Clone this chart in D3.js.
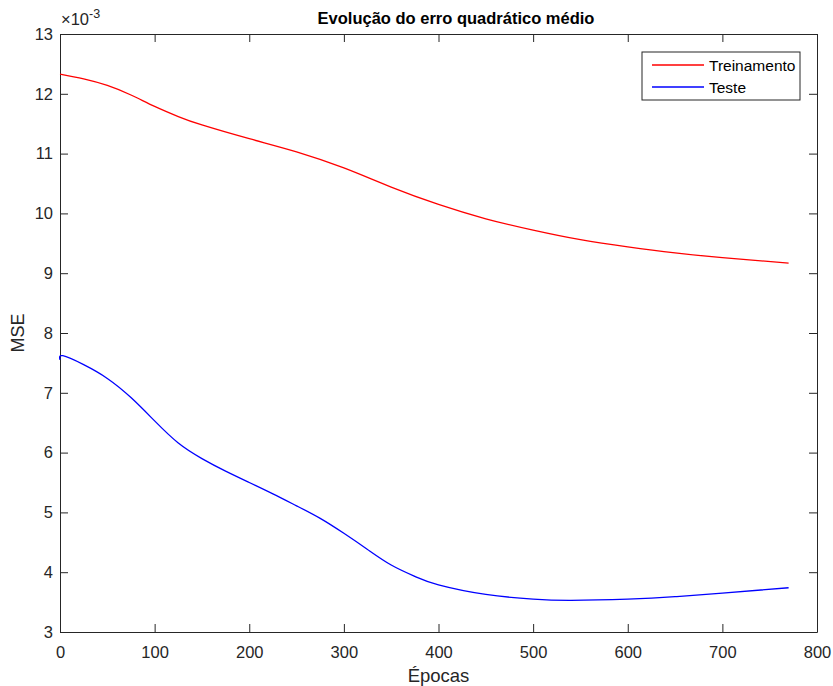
<!DOCTYPE html>
<html>
<head>
<meta charset="utf-8">
<script src="https://cdn.jsdelivr.net/npm/d3@7"></script>
<style>
  body { margin: 0; background: #fff; }
  svg { font-family: "Liberation Sans", Arial, sans-serif; }
  .axis path, .axis line { stroke: #262626; }
  .axis text { fill: #262626; font-size: 16.5px; }
</style>
</head>
<body>
<svg id="chart" width="833" height="686"></svg>
<script>
'use strict';

// epochs / MSE (x1e-3)
var trainEpochs = [0, 25, 50, 75, 100, 125, 150, 200, 250, 300, 350, 400, 450, 500, 550, 600, 650, 700, 770];
var trainMse = [12.33, 12.25, 12.14, 11.98, 11.79, 11.62, 11.48, 11.25, 11.03, 10.76, 10.44, 10.15, 9.91, 9.72, 9.56, 9.44, 9.34, 9.26, 9.17];

var testEpochs = [0, 3, 25, 50, 75, 100, 125, 150, 175, 200, 225, 250, 275, 300, 325, 350, 375, 400, 450, 500, 540, 600, 650, 700, 770];
var testMse = [7.55, 7.62, 7.47, 7.24, 6.92, 6.53, 6.16, 5.90, 5.69, 5.50, 5.31, 5.11, 4.90, 4.65, 4.38, 4.12, 3.93, 3.79, 3.63, 3.55, 3.53, 3.55, 3.59, 3.65, 3.74];

var xTicks = [0, 100, 200, 300, 400, 500, 600, 700, 800];
var yTicks = [3, 4, 5, 6, 7, 8, 9, 10, 11, 12, 13];

var seriesNames = ['Treinamento', 'Teste'];
var seriesColors = ['#ff0000', '#0000ff'];

var margin = {left: 60, top: 34, right: 16, bottom: 54};
var width = 833 - margin.left - margin.right;
var height = 686 - margin.top - margin.bottom;

var svg = d3.select('#chart');
var g = svg.append('g').attr('transform', 'translate(' + margin.left + ',' + margin.top + ')');

var x = d3.scaleLinear().domain([0, 800]).range([0, width]);
var y = d3.scaleLinear().domain([3, 13]).range([height, 0]);

var tick = 8;

g.append('g').attr('class', 'axis')
  .attr('transform', 'translate(0,' + height + ')')
  .call(d3.axisBottom(x).tickValues(xTicks).tickSize(-tick).tickPadding(14).tickSizeOuter(0));
g.append('g').attr('class', 'axis')
  .call(d3.axisTop(x).tickValues(xTicks).tickSize(-tick).tickFormat('').tickSizeOuter(0));
g.append('g').attr('class', 'axis')
  .call(d3.axisLeft(y).tickValues(yTicks).tickSize(-tick).tickPadding(7).tickSizeOuter(0));
g.append('g').attr('class', 'axis')
  .attr('transform', 'translate(' + width + ',0)')
  .call(d3.axisRight(y).tickValues(yTicks).tickSize(-tick).tickFormat('').tickSizeOuter(0));

var line = d3.line()
  .x(function (d) { return x(d[0]); })
  .y(function (d) { return y(d[1]); })
  .curve(d3.curveNatural);

var series = [d3.zip(trainEpochs, trainMse), d3.zip(testEpochs, testMse)];

g.selectAll('.series').data(series).enter().append('path')
  .attr('class', 'series')
  .attr('fill', 'none')
  .attr('stroke-width', 1.3)
  .attr('stroke', function (d, i) { return seriesColors[i]; })
  .attr('d', line);

// exponent label
var expo = svg.append('text').attr('x', 61).attr('y', 25)
  .attr('fill', '#262626').style('font-size', '16.5px');
expo.append('tspan').text('\u00d710');
expo.append('tspan').attr('dy', -7).style('font-size', '12.5px').text('-3');

svg.append('text').attr('x', 456).attr('y', 24)
  .attr('text-anchor', 'middle').attr('fill', '#000')
  .style('font-size', '16.5px').style('font-weight', 'bold')
  .text('Evolução do erro quadrático médio');

svg.append('text').attr('x', margin.left + width / 2).attr('y', 682)
  .attr('text-anchor', 'middle').attr('fill', '#262626')
  .style('font-size', '18.5px').text('Épocas');

svg.append('text')
  .attr('transform', 'translate(24,' + (margin.top + height / 2) + ') rotate(-90)')
  .attr('text-anchor', 'middle').attr('fill', '#262626')
  .style('font-size', '18px').text('MSE');

// legend
var legend = svg.append('g').attr('transform', 'translate(642,52)');
legend.append('rect').attr('width', 158).attr('height', 48)
  .attr('fill', '#fff').attr('stroke', '#262626').attr('stroke-width', 1);
seriesNames.forEach(function (name, i) {
  var ly = 13 + i * 22;
  legend.append('line').attr('x1', 10).attr('x2', 62).attr('y1', ly).attr('y2', ly)
    .attr('stroke', seriesColors[i]).attr('stroke-width', 1.3);
  legend.append('text').attr('x', 67).attr('y', ly + 5.5)
    .attr('fill', '#000').style('font-size', '15.5px').text(name);
});
</script>
</body>
</html>
